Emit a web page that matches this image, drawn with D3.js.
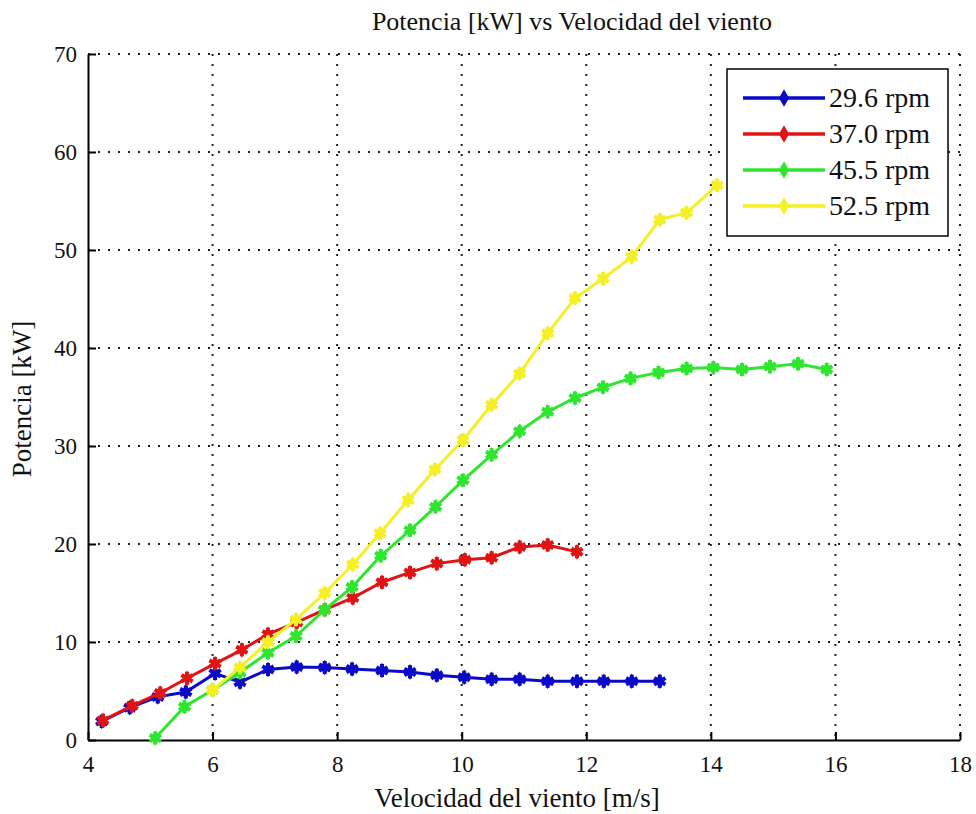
<!DOCTYPE html>
<html>
<head>
<meta charset="utf-8">
<script src="https://cdn.jsdelivr.net/npm/d3@7"></script>
<style>
    body { margin: 0; background: #fff; }
    text { font-family: "Liberation Serif", "DejaVu Serif", serif; fill: #111; }
</style>
</head>
<body>
<div id="chart"></div>
<script>

// data
let seriesNames = ["29.6 rpm", "37.0 rpm", "45.5 rpm", "52.5 rpm"];
let seriesColors = ["#0a0ac8", "#e01414", "#2ee62e", "#f5ef25"];

let blueX = [4.22, 4.67, 5.12, 5.57, 6.04, 6.44, 6.89, 7.35, 7.80, 8.24, 8.72, 9.17, 9.60, 10.04, 10.48, 10.93, 11.38, 11.85, 12.28, 12.73, 13.18];
let blueY = [1.9, 3.3, 4.4, 4.9, 6.8, 5.9, 7.2, 7.45, 7.4, 7.25, 7.1, 6.95, 6.6, 6.4, 6.2, 6.2, 6.0, 6.0, 6.0, 6.0, 6.0];

let redX = [4.24, 4.71, 5.16, 5.59, 6.04, 6.47, 6.89, 7.35, 7.80, 8.25, 8.72, 9.17, 9.60, 10.05, 10.48, 10.93, 11.38, 11.85];
let redY = [2.0, 3.5, 4.8, 6.3, 7.8, 9.2, 10.8, 12.0, 13.3, 14.5, 16.1, 17.1, 18.0, 18.4, 18.6, 19.7, 19.9, 19.2];

let greenX = [5.08, 5.55, 6.0, 6.44, 6.89, 7.34, 7.80, 8.24, 8.70, 9.17, 9.58, 10.02, 10.48, 10.93, 11.38, 11.82, 12.27, 12.71, 13.16, 13.61, 14.04, 14.50, 14.95, 15.40, 15.86];
let greenY = [0.2, 3.4, 5.1, 6.9, 8.9, 10.6, 13.3, 15.6, 18.8, 21.4, 23.8, 26.5, 29.1, 31.5, 33.5, 34.9, 36.0, 36.9, 37.5, 37.9, 38.0, 37.8, 38.1, 38.4, 37.8];

let yellowX = [6.0, 6.44, 6.89, 7.34, 7.80, 8.25, 8.69, 9.14, 9.57, 10.02, 10.48, 10.93, 11.38, 11.82, 12.27, 12.73, 13.18, 13.61, 14.10];
let yellowY = [5.1, 7.4, 10.0, 12.3, 15.0, 17.9, 21.1, 24.5, 27.6, 30.6, 34.2, 37.4, 41.5, 45.1, 47.1, 49.3, 53.1, 53.8, 56.6];

let xTicks = [4, 6, 8, 10, 12, 14, 16, 18];
let yTicks = [0, 10, 20, 30, 40, 50, 60, 70];

let chartTitle = "Potencia [kW] vs Velocidad del viento";
let xLabel = "Velocidad del viento [m/s]";
let yLabel = "Potencia [kW]";

let allX = [blueX, redX, greenX, yellowX];
let allY = [blueY, redY, greenY, yellowY];


let margin = {top: 54, right: 16, bottom: 74, left: 88};
let width = 976 - margin.left - margin.right;
let height = 814 - margin.top - margin.bottom;

let svg = d3.select("#chart").append("svg")
    .attr("width", 976)
    .attr("height", 814);

let g = svg.append("g")
    .attr("transform", `translate(${margin.left}, ${margin.top})`);

let x = d3.scaleLinear().domain([4, 18]).range([0, width]);
let y = d3.scaleLinear().domain([0, 70]).range([height, 0]);

// grid (dotted)
g.append("g").selectAll("line")
    .data(xTicks.slice(1))
    .enter().append("line")
    .attr("x1", d => x(d)).attr("x2", d => x(d))
    .attr("y1", 0).attr("y2", height)
    .attr("stroke", "#222").attr("stroke-width", 2)
    .attr("stroke-dasharray", "2,8");

g.append("g").selectAll("line")
    .data(yTicks.slice(1))
    .enter().append("line")
    .attr("x1", 0).attr("x2", width)
    .attr("y1", d => y(d)).attr("y2", d => y(d))
    .attr("stroke", "#222").attr("stroke-width", 2)
    .attr("stroke-dasharray", "2,8");

// axes
let xAxis = d3.axisBottom(x).tickValues(xTicks).tickSize(-8).tickPadding(16).tickSizeOuter(0);
let yAxis = d3.axisLeft(y).tickValues(yTicks).tickSize(-8).tickPadding(11).tickSizeOuter(0);

let gx = g.append("g").attr("transform", `translate(0, ${height})`).call(xAxis);
let gy = g.append("g").call(yAxis);

[gx, gy].forEach(a => {
    a.attr("font-family", null);
    a.select(".domain").attr("stroke", "#000").attr("stroke-width", 2);
    a.selectAll(".tick line").attr("stroke", "#000").attr("stroke-width", 2);
    a.selectAll(".tick text").style("font-size", "23px").attr("fill", "#111");
});

// series
let line = d3.line().x(d => x(d[0])).y(d => y(d[1]));
let marker = d3.symbol().type(d3.symbolAsterisk).size(120);
let dot = d3.symbol().type(d3.symbolDiamond).size(70);

allX.forEach((xs, i) => {
    let pts = xs.map((v, j) => [v, allY[i][j]]);
    let col = seriesColors[i];
    let sg = g.append("g").attr("class", "series");

    sg.append("path")
        .datum(pts)
        .attr("d", line)
        .attr("fill", "none")
        .attr("stroke", col)
        .attr("stroke-width", 3);

    let m = sg.selectAll(".pt").data(pts).enter().append("g")
        .attr("transform", d => `translate(${x(d[0])}, ${y(d[1])})`);
    m.append("path").attr("d", marker).attr("fill", "none").attr("stroke", col).attr("stroke-width", 4);
    m.append("path").attr("d", dot).attr("fill", col);
});

// title + labels
svg.append("text")
    .attr("x", 572).attr("y", 30)
    .attr("text-anchor", "middle")
    .style("font-size", "26px")
    .text(chartTitle);

svg.append("text")
    .attr("x", 517).attr("y", 807)
    .attr("text-anchor", "middle")
    .style("font-size", "27px")
    .text(xLabel);

svg.append("text")
    .attr("transform", `translate(31, ${margin.top + height / 2 + 2}) rotate(-90)`)
    .attr("text-anchor", "middle")
    .style("font-size", "27px")
    .text(yLabel);

// legend
let legend = svg.append("g").attr("transform", "translate(727, 69)");
legend.append("rect")
    .attr("width", 221).attr("height", 167)
    .attr("fill", "#fff").attr("stroke", "#000").attr("stroke-width", 1.5);

seriesNames.forEach((name, i) => {
    let ly = 29 + i * 36;
    let col = seriesColors[i];
    legend.append("line")
        .attr("x1", 16).attr("x2", 98).attr("y1", ly).attr("y2", ly)
        .attr("stroke", col).attr("stroke-width", 3.5);
    legend.append("path")
        .attr("transform", `translate(57, ${ly})`)
        .attr("d", d3.symbol().type(d3.symbolDiamond).size(90))
        .attr("fill", col);
    legend.append("text")
        .attr("x", 102).attr("y", ly + 9)
        .style("font-size", "28px")
        .text(name);
});

</script>
</body>
</html>
